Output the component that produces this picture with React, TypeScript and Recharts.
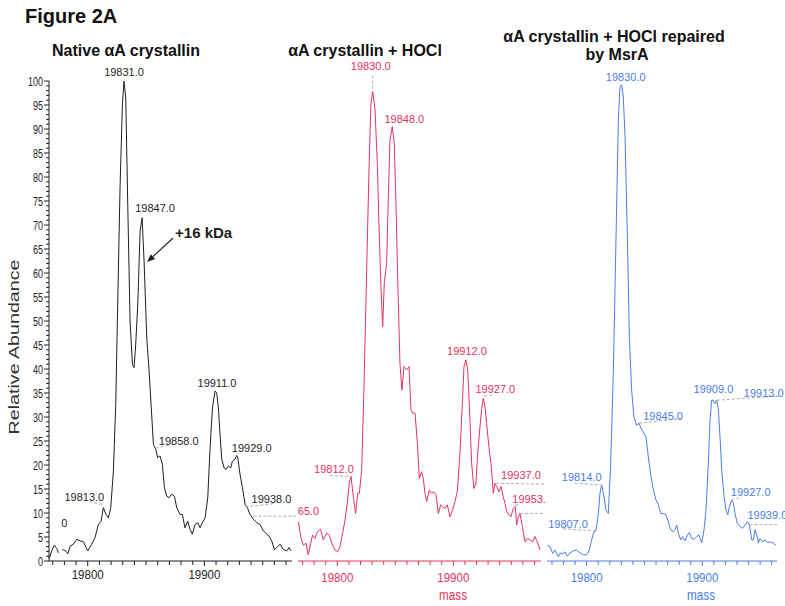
import React from 'react';
import { LineChart, Line, XAxis, YAxis, ReferenceDot } from 'recharts';

const FONT = '"Liberation Sans", Arial, Helvetica, sans-serif';

// ---------- Panel 1: Native alphaA crystallin ----------
const nativeMass = [
  19767.0, 19769.1, 19771.4, 19773.4, 19774.9, 19776.5, 19778.3, 19781.1, 19782.9, 19784.9,
  19787.7, 19790.6, 19793.4, 19796.3, 19800.0, 19803.4, 19806.3, 19809.1, 19811.4, 19813.4,
  19815.7, 19817.7, 19819.7, 19822.0, 19824.0, 19825.7, 19827.7, 19829.7, 19831.1, 19832.6,
  19834.3, 19836.3, 19838.3, 19839.7, 19841.1, 19842.9, 19844.9, 19846.6, 19848.3, 19850.6,
  19852.6, 19854.3, 19856.3, 19858.3, 19860.0, 19862.0, 19864.0, 19865.7, 19867.7, 19869.7,
  19872.0, 19874.3, 19876.3, 19879.1, 19881.1, 19883.4, 19885.7, 19887.7, 19889.7, 19892.0,
  19894.3, 19896.3, 19898.3, 19900.6, 19902.9, 19904.9, 19906.9, 19909.1, 19910.6, 19912.0,
  19913.4, 19914.9, 19916.9, 19918.6, 19920.6, 19922.6, 19924.0, 19926.3, 19927.7, 19928.6,
  19930.6, 19932.6, 19934.9, 19936.9, 19939.1, 19942.0, 19944.9, 19947.7, 19950.6, 19953.4,
  19955.4, 19957.7, 19960.0, 19962.0, 19964.9, 19967.7, 19970.6, 19972.6, 19974.3,
];
const nativeAbundance: (number | null)[] = [
  0.5, 2.1, 3.3, 2.6, 1.7, null, 2.4, 2.1, 1.5, 3.1,
  3.5, 4.5, 4.2, 4.0, 2.1, 3.5, 4.9, 7.6, 8.3, 11.1,
  9.7, 9.0, 11.0, 18.8, 32.6, 53.5, 77.8, 95.0, 100, 96.5,
  74.3, 50.0, 41.0, 40.3, 45.0, 53.5, 68.8, 71.5, 62.5, 46.5,
  39.6, 32.6, 24.3, 23.3, 21.5, 21.9, 20.1, 15.3, 13.5, 13.2,
  13.9, 13.5, 11.1, 9.7, 9.7, 6.9, 8.3, 6.6, 5.6, 7.6,
  8.0, 6.9, 8.0, 9.0, 13.2, 23.6, 31.9, 35.4, 35.0, 31.9,
  26.4, 21.2, 19.4, 19.1, 19.8, 19.4, 20.8, 21.2, 22.0, 21.5,
  18.0, 15.3, 11.8, 11.1, 9.7, 8.7, 8.0, 7.6, 6.3, 5.6,
  5.2, 4.2, 2.4, 2.8, 3.5, 2.4, 2.1, 2.8, 2.1,
];
const nativePeakLabels = ['0', '19813.0', '19831.0', '19847.0', '19858.0', '19911.0', '19929.0', '19938.0', ''];
const nativePeakMass = [19771.4, 19813.4, 19831.1, 19846.6, 19858.3, 19909.1, 19927.7, 19936.9, 19942.0];
const nativePeakAbundance = [3.3, 11.1, 100, 71.5, 23.3, 35.4, 22.0, 11.1, 8.7];

// ---------- Panel 2: alphaA crystallin + HOCl ----------
const hoclMass = [
  19766.4, 19768.4, 19770.7, 19773.0, 19775.0, 19777.0, 19778.7, 19780.7, 19782.8, 19785.6,
  19787.9, 19790.8, 19793.1, 19795.1, 19798.0, 19800.3, 19802.3, 19804.6, 19806.6, 19808.6,
  19810.3, 19811.8, 19813.8, 19815.8, 19817.5, 19819.0, 19821.0, 19823.0, 19825.3, 19827.3,
  19829.0, 19830.5, 19832.5, 19834.5, 19836.2, 19837.6, 19839.1, 19840.5, 19842.5, 19844.0,
  19845.4, 19847.4, 19849.1, 19850.6, 19852.0, 19854.0, 19855.7, 19857.5, 19859.8, 19861.8,
  19863.5, 19864.9, 19867.0, 19869.0, 19870.7, 19872.7, 19874.1, 19875.6, 19877.0, 19879.3,
  19881.3, 19883.3, 19885.1, 19887.1, 19889.1, 19890.8, 19892.8, 19894.8, 19897.1, 19899.4,
  19901.4, 19903.4, 19905.7, 19907.8, 19909.2, 19910.9, 19912.4, 19913.8, 19915.8, 19917.8,
  19919.5, 19921.0, 19923.0, 19924.4, 19925.9, 19927.3, 19928.7, 19930.7, 19932.5, 19934.5,
  19935.9, 19937.4, 19939.4, 19941.1, 19943.1, 19944.5, 19946.0, 19948.0, 19949.7, 19951.7,
  19953.4, 19954.6, 19956.0, 19957.5, 19959.5, 19961.8, 19963.8, 19966.1, 19968.4, 19970.4,
  19972.4, 19974.7,
];
const hoclAbundance = [
  8.2, 5.1, 3.3, 3.7, 1.3, 3.7, 5.4, 4.7, 6.1, 6.6,
  4.4, 5.8, 5.4, 3.7, 2.3, 1.9, 3.0, 5.8, 8.5, 12.0,
  16.2, 17.6, 13.4, 9.9, 14.1, 14.1, 19.0, 36.3, 60.6, 81.5,
  95.3, 97.8, 94.0, 82.8, 67.6, 57.2, 48.8, 58.0, 62.0, 75.9,
  87.7, 90.5, 87.0, 74.5, 59.2, 41.2, 35.6, 40.5, 39.8, 40.5,
  31.5, 30.8, 30.8, 24.5, 17.2, 18.6, 17.2, 14.1, 12.4, 14.8,
  14.1, 14.4, 13.8, 9.9, 11.7, 11.3, 11.0, 11.7, 9.2, 10.6,
  12.4, 14.4, 22.4, 32.8, 40.5, 41.9, 39.8, 32.8, 20.3, 15.1,
  16.2, 22.4, 28.0, 31.5, 33.9, 32.2, 28.7, 23.8, 20.3, 14.1,
  16.2, 15.5, 14.4, 15.5, 13.4, 12.0, 10.3, 9.6, 9.2, 11.0,
  11.3, 7.5, 9.2, 9.9, 7.2, 4.0, 4.7, 4.4, 4.0, 5.1,
  4.0, 2.3,
];
const hoclPeakLabels = ['19765.0', '19812.0', '19830.0', '19848.0', '19912.0', '19927.0', '19937.0', '19953.0', ''];
const hoclPeakMass = [19766.4, 19811.8, 19830.5, 19847.4, 19910.9, 19925.9, 19935.9, 19953.4, 19957.5];
const hoclPeakAbundance = [8.2, 17.6, 97.8, 90.5, 41.9, 33.9, 16.2, 11.3, 9.9];

// ---------- Panel 3: alphaA crystallin + HOCl repaired by MsrA ----------
const msraMass = [
  19766.0, 19768.3, 19770.6, 19772.6, 19775.5, 19777.5, 19779.2, 19781.3, 19783.3, 19785.6,
  19788.5, 19791.3, 19794.2, 19797.1, 19800.0, 19802.3, 19804.3, 19806.3, 19808.1, 19810.1,
  19811.5, 19813.0, 19815.0, 19816.7, 19818.7, 19820.8, 19823.1, 19825.4, 19827.4, 19828.8,
  19830.3, 19831.7, 19833.2, 19835.2, 19836.9, 19838.9, 19840.9, 19843.3, 19845.3, 19847.6,
  19849.6, 19851.3, 19853.3, 19855.4, 19857.7, 19860.0, 19862.0, 19864.0, 19866.3, 19868.6,
  19870.6, 19872.7, 19875.0, 19876.4, 19877.9, 19879.3, 19881.3, 19883.0, 19885.1, 19887.1,
  19888.8, 19890.8, 19892.8, 19895.2, 19897.2, 19899.5, 19901.5, 19903.2, 19905.2, 19906.7,
  19908.1, 19909.6, 19910.7, 19912.5, 19913.9, 19915.3, 19916.8, 19918.8, 19920.5, 19922.0,
  19923.4, 19925.4, 19926.9, 19928.3, 19930.3, 19932.6, 19934.7, 19937.0, 19939.0, 19940.7,
  19942.8, 19944.2, 19945.6, 19947.1, 19948.5, 19949.9, 19952.2, 19954.3, 19956.3, 19958.6,
  19961.5, 19963.8,
];
const msraAbundance = [
  3.3, 3.0, 1.6, 2.3, 0.9, 1.7, 1.5, 1.9, 1.0, 1.7,
  2.1, 2.3, 1.7, 1.3, 1.3, 2.3, 4.4, 6.1, 6.3, 9.9,
  14.1, 15.8, 13.4, 10.6, 9.9, 20.3, 39.8, 67.6, 91.9, 98.8,
  99.2, 96.7, 88.4, 67.6, 46.7, 35.6, 30.0, 28.3, 28.7, 27.3,
  26.6, 25.9, 21.7, 17.9, 14.8, 12.7, 11.7, 9.9, 9.9, 9.6,
  8.2, 6.5, 6.1, 6.5, 7.5, 5.8, 4.4, 5.1, 4.2, 5.4,
  5.9, 4.7, 4.5, 5.1, 5.4, 3.8, 6.5, 10.6, 20.3, 29.4,
  33.5, 33.5, 32.8, 33.5, 31.5, 25.9, 19.0, 13.4, 10.6, 9.6,
  11.3, 12.7, 12.0, 9.9, 7.8, 7.2, 6.8, 7.5, 8.2, 7.5,
  4.4, 4.4, 6.5, 5.4, 3.7, 4.7, 4.0, 4.4, 3.8, 4.0,
  3.7, 3.3,
];
const msraPeakLabels = ['19807.0', '19814.0', '19830.0', '19845.0', '19909.0', '19913.0', '19927.0', '19939.0'];
const msraPeakMass = [19808.1, 19813.0, 19830.3, 19845.3, 19909.6, 19912.5, 19925.4, 19939.0];
const msraPeakAbundance = [6.3, 15.8, 99.2, 28.7, 33.5, 33.5, 12.7, 8.2];

// ---------- axis ticks ----------
const yTicks = Array.from({ length: 101 }, (_, i) => i);
const xTicksLong = Array.from({ length: 21 }, (_, i) => 19770 + i * 10);
const xTicksShort = Array.from({ length: 20 }, (_, i) => 19770 + i * 10);
const xLabelTicks = [19800, 19900];

// ---------- annotation layout (pixel offsets from each peak) ----------
type Lay = { dx: number; dy: number; lead?: number[] };
const nativeLayout: Lay[] = [
  { dx: 10, dy: -18 },
  { dx: -19, dy: -7, lead: [-14, -6, 0, -3] },
  { dx: 0, dy: -5 },
  { dx: 13, dy: -6 },
  { dx: 23, dy: -4, lead: [0, -1, 17, -5] },
  { dx: 2, dy: -4 },
  { dx: 15, dy: -3 },
  { dx: 24, dy: -5, lead: [-2, -1, 26, -4] },
  { dx: 0, dy: 0, lead: [0, -3, 50, -3] },
];
const hoclLayout: Lay[] = [
  { dx: 1, dy: -7 },
  { dx: -17, dy: -3.5, lead: [-21, -1, 0, 0] },
  { dx: -2, dy: -22, lead: [0, -3, 0, -18] },
  { dx: 12, dy: -4 },
  { dx: 1, dy: -5 },
  { dx: 12, dy: -5, lead: [1, -2, 11, -4] },
  { dx: 26, dy: -4, lead: [1, 0, 56, 1] },
  { dx: 17, dy: -4, lead: [0, -1, 5, -3] },
  { dx: 0, dy: 0, lead: [0, 0, 30, 0] },
];
const msraLayout: Lay[] = [
  { dx: -28, dy: -3, lead: [-33, -2, 0, 0] },
  { dx: -20, dy: -4, lead: [-27, -2, 0, 0] },
  { dx: 4, dy: -4 },
  { dx: 24, dy: -3, lead: [0, 0, 44, -5] },
  { dx: 0, dy: -7 },
  { dx: 47, dy: -3, lead: [0, 0, 62, -4] },
  { dx: 19, dy: -4, lead: [0, 0, 10, -3] },
  { dx: 20, dy: -2.5, lead: [2, 3, 32, 3] },
];

const BLACK = '#1e1e1e';
const RED = '#e2335e';
const BLUE = '#4a7de8';
const LEAD = '#9a9a9a';

function PeakLabel(props: any) {
  const { cx, cy, text, color, lay } = props;
  if (cx == null || cy == null || !isFinite(cx) || !isFinite(cy)) return null;
  const l: Lay = lay;
  return (
    <g>
      {l.lead && (
        <line
          x1={cx + l.lead[0]}
          y1={cy + l.lead[1]}
          x2={cx + l.lead[2]}
          y2={cy + l.lead[3]}
          stroke={LEAD}
          strokeWidth={0.8}
          strokeDasharray="3 2"
        />
      )}
      {text ? (
        <text x={cx + l.dx} y={cy + l.dy} textAnchor="middle" fontSize={11} fill={color} fontFamily={FONT}>
          {text}
        </text>
      ) : null}
    </g>
  );
}

function ArrowNote(props: any) {
  const { cx, cy } = props;
  if (cx == null || cy == null) return null;
  const x1 = cx + 29;
  const y1 = cy - 23;
  const x2 = cx + 3;
  const y2 = cy + 1;
  const ang = Math.atan2(y2 - y1, x2 - x1);
  const L = 8;
  const W = 3.2;
  const bx = x2 - L * Math.cos(ang);
  const by = y2 - L * Math.sin(ang);
  const px = -Math.sin(ang) * W;
  const py = Math.cos(ang) * W;
  return (
    <g>
      <line x1={x1} y1={y1} x2={bx} y2={by} stroke={BLACK} strokeWidth={1.1} />
      <polygon points={`${x2},${y2} ${bx + px},${by + py} ${bx - px},${by - py}`} fill={BLACK} />
      <text x={cx + 31} y={cy - 23} fontSize={15} fontWeight="bold" fill={BLACK} fontFamily={FONT}>
        +16 kDa
      </text>
    </g>
  );
}

function YTick(props: any) {
  const { x, y, payload } = props;
  const v = payload.value as number;
  const major = v % 5 === 0;
  const s = String(v);
  return (
    <g>
      <line x1={x - (major ? 5 : 3)} y1={y} x2={x} y2={y} stroke={BLACK} strokeWidth={1} />
      {major && (
        <text
          x={x - 6}
          y={y + 4.5}
          textAnchor="end"
          fontSize={12.5}
          fill={BLACK}
          fontFamily={FONT}
          textLength={s.length * 5}
          lengthAdjust="spacingAndGlyphs"
        >
          {s}
        </text>
      )}
    </g>
  );
}

function makeXTick(color: string, labelDy: number) {
  return (props: any) => {
    const { x, y, payload } = props;
    const v = payload.value as number;
    const major = xLabelTicks.includes(v);
    return (
      <g>
        <line x1={x} y1={y} x2={x} y2={y + (major ? 5 : 4)} stroke={color} strokeWidth={1} />
        {major && (
          <text
            x={x}
            y={y + labelDy}
            textAnchor="middle"
            fontSize={13}
            fill={color}
            fontFamily={FONT}
            textLength={32}
            lengthAdjust="spacingAndGlyphs"
          >
            {v}
          </text>
        )}
      </g>
    );
  };
}

const toRows = (ms: number[], vs: (number | null)[]) => ms.map((m, i) => ({ m, v: vs[i] }));

type PanelProps = {
  left: number;
  width: number;
  marginLeft: number;
  marginRight: number;
  domain: [number, number];
  rows: { m: number; v: number | null }[];
  color: string;
  showY: boolean;
  xTicks: number[];
  labelDy: number;
  labels: string[];
  peakMass: number[];
  peakVal: number[];
  layout: Lay[];
  arrow?: boolean;
};

function Panel(p: PanelProps) {
  return (
    <div style={{ position: 'absolute', left: p.left, top: 0 }}>
      <LineChart
        width={p.width}
        height={606}
        data={p.rows}
        margin={{ top: 81, right: p.marginRight, bottom: 15, left: p.marginLeft }}
      >
        <XAxis
          dataKey="m"
          type="number"
          domain={p.domain}
          allowDataOverflow
          ticks={p.xTicks}
          interval={0}
          tickSize={0}
          tickMargin={0}
          tickLine={false}
          height={30}
          axisLine={{ stroke: p.color, strokeWidth: 1 }}
          tick={makeXTick(p.color, p.labelDy)}
        />
        <YAxis
          type="number"
          domain={[0, 100]}
          allowDataOverflow
          hide={!p.showY}
          width={p.showY ? 49 : 0}
          ticks={yTicks}
          interval={0}
          tickSize={0}
          tickMargin={0}
          tickLine={false}
          axisLine={{ stroke: BLACK, strokeWidth: 1 }}
          tick={YTick}
        />
        <Line
          dataKey="v"
          type="linear"
          stroke={p.color}
          strokeWidth={1}
          dot={false}
          activeDot={false}
          connectNulls={false}
          isAnimationActive={false}
        />
        {p.labels.map((t, i) => (
          <ReferenceDot
            key={i}
            x={p.peakMass[i]}
            y={p.peakVal[i]}
            r={1}
            ifOverflow="visible"
            shape={(sp: any) => <PeakLabel {...sp} text={t} color={p.color} lay={p.layout[i]} />}
          />
        ))}
        {p.arrow && (
          <ReferenceDot
            x={19848.3}
            y={62.5}
            r={1}
            ifOverflow="visible"
            shape={(sp: any) => <ArrowNote {...sp} />}
          />
        )}
      </LineChart>
    </div>
  );
}

export default function App() {
  return (
    <div
      style={{
        position: 'absolute',
        left: 0,
        top: 0,
        width: 785,
        height: 606,
        background: '#fff',
        overflow: 'hidden',
        fontFamily: FONT,
      }}
    >
      <Panel
        left={0}
        width={297}
        marginLeft={0}
        marginRight={5}
        domain={[19766.8, 19975.1]}
        rows={toRows(nativeMass, nativeAbundance)}
        color={BLACK}
        showY
        xTicks={xTicksLong}
        labelDy={18}
        labels={nativePeakLabels}
        peakMass={nativePeakMass}
        peakVal={nativePeakAbundance}
        layout={nativeLayout}
        arrow
      />
      <Panel
        left={297}
        width={248}
        marginLeft={1}
        marginRight={4}
        domain={[19766.1, 19975.6]}
        rows={toRows(hoclMass, hoclAbundance)}
        color={RED}
        showY={false}
        xTicks={xTicksLong}
        labelDy={21}
        labels={hoclPeakLabels}
        peakMass={hoclPeakMass}
        peakVal={hoclPeakAbundance}
        layout={hoclLayout}
      />
      <Panel
        left={545}
        width={240}
        marginLeft={2}
        marginRight={8}
        domain={[19765.7, 19964.6]}
        rows={toRows(msraMass, msraAbundance)}
        color={BLUE}
        showY={false}
        xTicks={xTicksShort}
        labelDy={21}
        labels={msraPeakLabels}
        peakMass={msraPeakMass}
        peakVal={msraPeakAbundance}
        layout={msraLayout}
      />
      <svg
        width={785}
        height={606}
        style={{ position: 'absolute', left: 0, top: 0, pointerEvents: 'none' }}
      >
        <text x={25} y={23} fontSize={20} fontWeight="bold" fill="#111" fontFamily={FONT}>
          Figure 2A
        </text>
        <text x={126} y={56} textAnchor="middle" fontSize={16} fontWeight="bold" fill="#111" fontFamily={FONT}>
          Native αA crystallin
        </text>
        <text x={365} y={56} textAnchor="middle" fontSize={16} fontWeight="bold" fill="#111" fontFamily={FONT}>
          αA crystallin + HOCl
        </text>
        <text x={614} y={42} textAnchor="middle" fontSize={16} fontWeight="bold" fill="#111" fontFamily={FONT}>
          αA crystallin + HOCl repaired
        </text>
        <text x={617} y={60} textAnchor="middle" fontSize={16} fontWeight="bold" fill="#111" fontFamily={FONT}>
          by MsrA
        </text>
        <text
          x={0}
          y={0}
          transform="translate(19,347) rotate(-90)"
          textAnchor="middle"
          fontSize={14}
          fill="#333"
          fontFamily={FONT}
          textLength={175}
          lengthAdjust="spacingAndGlyphs"
        >
          Relative Abundance
        </text>
        <text x={453} y={600} textAnchor="middle" fontSize={14} fill={RED} fontFamily={FONT} textLength={28} lengthAdjust="spacingAndGlyphs">
          mass
        </text>
        <text x={701} y={600} textAnchor="middle" fontSize={14} fill={BLUE} fontFamily={FONT} textLength={28} lengthAdjust="spacingAndGlyphs">
          mass
        </text>
      </svg>
    </div>
  );
}
